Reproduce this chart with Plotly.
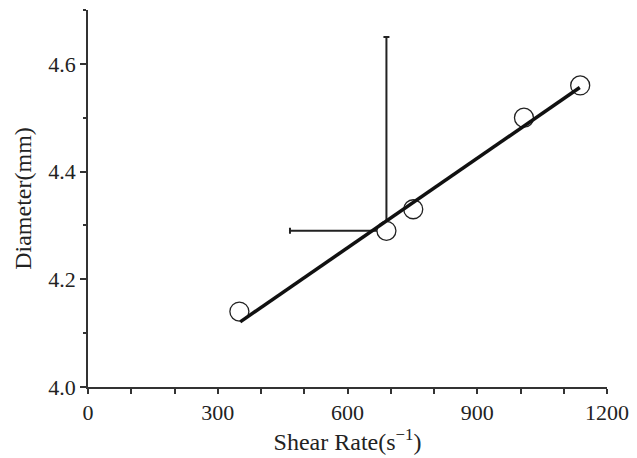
import plotly.graph_objects as go

# Data
shear_rate = [350, 690, 752, 1008, 1138]
diameter = [4.14, 4.29, 4.33, 4.50, 4.56]

fit_x = [352, 1137]
fit_y = [4.121, 4.556]

err_x = [690]
err_y = [4.29]
err_y_plus = [0.36]
err_y_minus = [0.0]
err_x_plus = [0.0]
err_x_minus = [223]

x_tick_vals = [0, 300, 600, 900, 1200]
x_tick_text = ["0", "300", "600", "900", "1200"]
y_tick_vals = [4.0, 4.2, 4.4, 4.6]
y_tick_text = ["4.0", "4.2", "4.4", "4.6"]

FONT = "Liberation Serif"
INK = "#222222"
AX = "#333333"

fig = go.Figure()

# error bars (drawn first so the white-filled circles cover their ends)
fig.add_trace(go.Scatter(
    x=err_x, y=err_y, mode="markers",
    marker=dict(size=2, color="rgba(0,0,0,0)"),
    error_y=dict(type="data", symmetric=False, array=err_y_plus, arrayminus=err_y_minus,
                 color=INK, thickness=2, width=3),
    error_x=dict(type="data", symmetric=False, array=err_x_plus, arrayminus=err_x_minus,
                 color=INK, thickness=2, width=3),
    showlegend=False, hoverinfo="skip",
))

# measured points
fig.add_trace(go.Scatter(
    x=shear_rate, y=diameter, mode="markers",
    marker=dict(symbol="circle", size=19, color="white",
                line=dict(color=INK, width=1.3)),
    showlegend=False,
))

# fitted line
fig.add_trace(go.Scatter(
    x=fit_x, y=fit_y, mode="lines",
    line=dict(color="#111111", width=3.5),
    showlegend=False,
))

fig.update_layout(
    width=637, height=458,
    margin=dict(l=88, r=30, t=10, b=71),
    paper_bgcolor="white", plot_bgcolor="white",
    font=dict(family=FONT, color=INK, size=22),
    xaxis=dict(
        range=[0, 1200], tickvals=x_tick_vals, ticktext=x_tick_text,
        ticks="outside", ticklen=5, tickwidth=1.5, tickcolor=AX,
        minor=dict(dtick=100, tick0=0, ticks="outside", ticklen=5, tickwidth=1.5, tickcolor=AX),
        showline=True, linewidth=1.5, linecolor=AX,
        showgrid=False, zeroline=False, automargin=False,
        tickfont=dict(family=FONT, size=22, color=INK),
        title=dict(text="Shear Rate(s<sup>−1</sup>)", font=dict(family=FONT, size=24, color=INK),
                   standoff=8),
    ),
    xaxis2=dict(
        overlaying="x", anchor="y", side="bottom", range=[0, 1200],
        tickvals=x_tick_vals, ticks="inside", ticklen=8, tickwidth=1.5, tickcolor=AX,
        showticklabels=False, showline=False, showgrid=False, zeroline=False,
        automargin=False,
    ),
    yaxis=dict(
        range=[4.0, 4.7], tickvals=y_tick_vals, ticktext=y_tick_text,
        ticks="outside", ticklen=6, tickwidth=1.5, tickcolor=AX,
        minor=dict(dtick=0.1, tick0=4.0, ticks="outside", ticklen=3, tickwidth=1.5, tickcolor=AX),
        showline=True, linewidth=1.5, linecolor=AX,
        showgrid=False, zeroline=False, automargin=False,
        tickfont=dict(family=FONT, size=22, color=INK),
        title=dict(text="Diameter(mm)", font=dict(family=FONT, size=24, color=INK),
                   standoff=10),
    ),
)

fig.write_html("out.html")
